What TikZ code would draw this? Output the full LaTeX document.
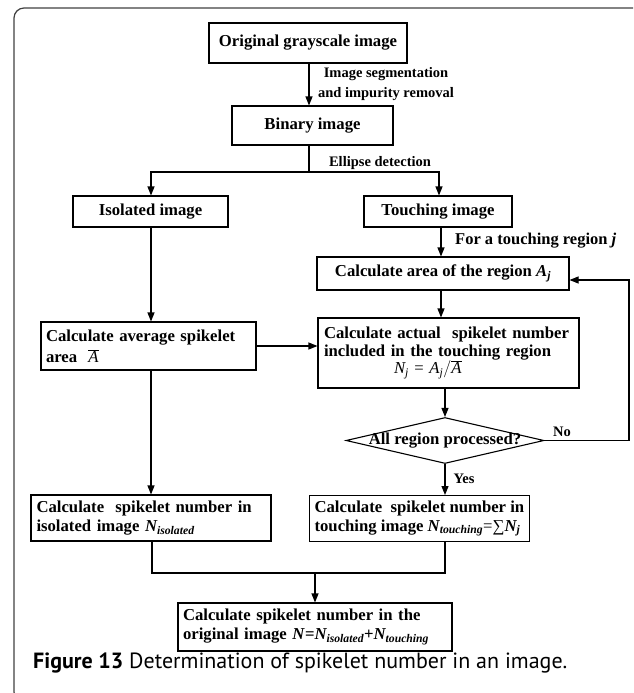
\documentclass[tikz,border=0pt]{standalone}
\usepackage{fontspec}
\setmainfont{Liberation Serif}
\newfontfamily\capfont{PT Sans}
\usetikzlibrary{arrows.meta,shapes.geometric}
\begin{document}
\begin{tikzpicture}[x=1pt,y=-1pt,
  font=\fontsize{16.7}{19}\selectfont\bfseries,
  box/.style={draw,line width=1.1pt,rectangle,inner sep=0pt,minimum width=#1},
  lbl/.style={font=\fontsize{14.5}{19.5}\selectfont\bfseries,inner sep=0pt},
  arr/.style={line width=1.1pt,-{Triangle[length=9pt,width=7pt]}},
  ln/.style={line width=1.1pt}]
\useasboundingbox (0,0) rectangle (633,693);
\clip (0,0) rectangle (633,693);
\draw[line width=1.2pt,black!75,rounded corners=10pt] (14,8) rectangle (648,702);

\node[box=198pt,minimum height=40pt] (orig) at (308,43) {Original grayscale image};
\node[box=161pt,minimum height=39pt] (bin) at (312.5,125.5) {Binary image};
\node[box=155pt,minimum height=31pt] (iso) at (150.5,211.5) {Isolated image};
\node[box=148pt,minimum height=31pt] (tou) at (438,211.5) {Touching image};
\node[box=252pt,minimum height=33pt] (area) at (443,273.5) {Calculate area of the region \textit{A\textsubscript{j}}};
\node[box=215pt,minimum height=48pt,align=left,text width=205pt,font=\fontsize{16.7}{21}\selectfont\bfseries] (avg) at (148.5,346)
  {Calculate average spikelet\\area \ {\mdseries\itshape$\overline{\mbox{A}}$}};
\node[box=261pt,minimum height=70pt,align=left,text width=249pt,font=\fontsize{16.7}{17.5}\selectfont\bfseries] (act) at (448.5,353)
  {Calculate actual\ \ spikelet number\\included in the touching region\\
   \hspace*{70pt}{\mdseries\itshape N\textsubscript{j} \upshape= \itshape A\textsubscript{j}$\big/\overline{\mbox{A}}$}};
\node[draw,line width=1.1pt,diamond,aspect=4.3,minimum width=198pt,minimum height=46pt,inner sep=0pt] (dia) at (445,440.5) {};
\node at (dia.center) {All region processed?};
\node[box=240pt,minimum height=46pt,align=left,text width=229pt] (ciso) at (151,518)
  {Calculate\ \ spikelet number in\\isolated image \textit{N\textsubscript{isolated}}};
\node[draw,line width=1.1pt,anchor=north west,minimum height=46pt,inner xsep=5pt,inner ysep=0pt,align=left] (ctou) at (309,495)
  {Calculate\ \ spikelet number in\\touching image \textit{N\textsubscript{touching}}\mdseries=∑\bfseries\textit{N\textsubscript{j}}};
\node[box=274pt,minimum height=48pt,align=left,text width=264pt] (fin) at (315,627)
  {Calculate spikelet number in the\\original image \textit{N}=\textit{N\textsubscript{isolated}}+\textit{N\textsubscript{touching}}};

% labels
\node[lbl,align=center] (l1) at (386,84) {Image segmentation\\and impurity removal};
\node[lbl] (l2) at (380,163) {Ellipse detection};
\node[lbl,anchor=west,font=\fontsize{16.5}{19}\selectfont\bfseries] (l3) at (455,241) {For a touching region \textit{j}};
\node[lbl] (l4) at (562,432) {No};
\node[lbl] (l5) at (464,479) {Yes};

% connectors
\coordinate (split) at (309,172);
\coordinate (merge) at (315,573);
\draw[arr] (orig.south -| split) -- (bin.north -| split);
\draw[ln] (bin.south -| split) -- (split);
\draw[arr] (split) -| (iso.north -| 151,0);
\draw[arr] (split) -| (tou.north -| 439,0);
\draw[arr] (tou.south -| 441,0) -- (area.north -| 441,0);
\draw[arr] (area.south -| 441,0) -- (act.north -| 441,0);
\draw[arr] (iso.south -| 151,0) -- (avg.north -| 151,0);
\draw[arr] (avg.east |- 0,346) -- (act.west |- 0,346);
\draw[arr] (act.south -| dia.north) -- (dia.north);
\coordinate (back) at (629,442);
\draw[arr] (dia.east) -- (dia.east -| back) -- (back |- 0,280) -- (area.east |- 0,280);
\draw[arr] (dia.south) -- (ctou.north -| dia.south);
\draw[arr] (avg.south -| 151,0) -- (ciso.north -| 151,0);
\draw[ln] (ciso.south -| 152,0) -- (152,573) -- (445,573) -- (ctou.south -| 445,0);
\draw[arr] (merge) -- (fin.north -| merge);

% caption
\node[anchor=base west,inner sep=0pt,font=\capfont\fontsize{22}{24}\selectfont] (cap) at (33,668)
  {\textbf{Figure 13} Determination of spikelet number in an image.};
\end{tikzpicture}
\end{document}
